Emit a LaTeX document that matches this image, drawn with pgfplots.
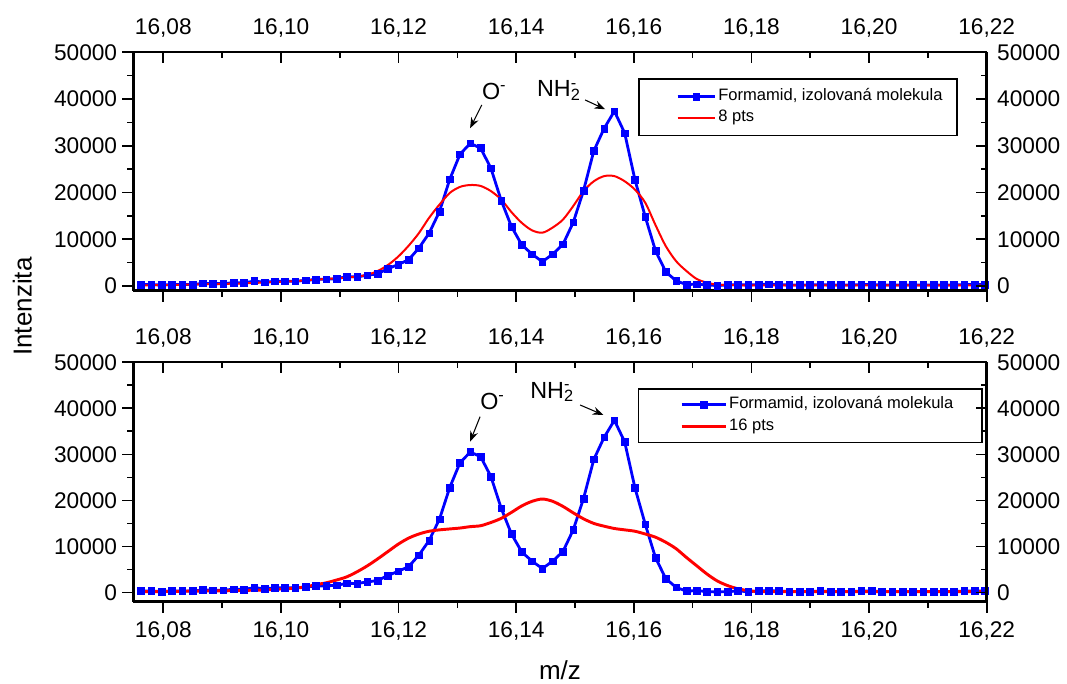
\documentclass[border=0pt]{standalone}
\usepackage{fontspec}
\setmainfont{Liberation Sans}
\usepackage{pgfplots}
\pgfplotsset{compat=1.18}
\usepackage{pgfplotstable}
\usetikzlibrary{arrows.meta}

\newcommand\ticksize{\fontsize{17pt}{20pt}\selectfont}
\newcommand\legsize{\fontsize{12.4pt}{14pt}\selectfont}
\newcommand\annsize{\fontsize{17.5pt}{20pt}\selectfont}
\newcommand\labsize{\fontsize{19.5pt}{23pt}\selectfont}

\pgfplotstableread{
x y
16.07620 300
16.07795 300
16.07970 200
16.08145 300
16.08320 300
16.08495 300
16.08670 550
16.08845 500
16.09020 500
16.09195 700
16.09370 650
16.09545 1050
16.09720 800
16.09895 1000
16.10070 1000
16.10245 1000
16.10420 1200
16.10595 1400
16.10770 1450
16.10945 1550
16.11120 2000
16.11295 1950
16.11470 2300
16.11645 2600
16.11820 3700
16.11995 4600
16.12170 5600
16.12345 8100
16.12520 11300
16.12695 15900
16.12870 22800
16.13045 28200
16.13220 30500
16.13395 29500
16.13570 25200
16.13745 18300
16.13920 12700
16.14095 8800
16.14270 6800
16.14445 5200
16.14620 6800
16.14795 8900
16.14970 13600
16.15145 20400
16.15320 28900
16.15495 33700
16.15670 37400
16.15845 32700
16.16020 22700
16.16195 14800
16.16370 7500
16.16545 3000
16.16720 1100
16.16895 300
16.17070 400
16.17245 200
16.17420 100
16.17595 200
16.17770 300
16.17945 200
16.18120 300
16.18295 400
16.18470 300
16.18645 200
16.18820 200
16.18995 200
16.19170 300
16.19345 200
16.19520 200
16.19695 200
16.19870 300
16.20045 300
16.20220 200
16.20395 200
16.20570 200
16.20745 200
16.20920 200
16.21095 200
16.21270 200
16.21445 200
16.21620 300
16.21795 300
16.21970 300
}\bluedata

\pgfplotstableread{
x y
16.07620 150
16.07795 150
16.07970 200
16.08145 200
16.08320 250
16.08495 300
16.08670 350
16.08845 400
16.09020 450
16.09195 500
16.09370 550
16.09545 650
16.09720 750
16.09895 850
16.10070 950
16.10245 1050
16.10420 1200
16.10595 1350
16.10770 1500
16.10945 1650
16.11120 1800
16.11295 2000
16.11470 2400
16.11645 3200
16.11820 4500
16.11995 6300
16.12170 8600
16.12345 11300
16.12520 14600
16.12695 17400
16.12870 19900
16.13045 21200
16.13220 21600
16.13395 21400
16.13570 20300
16.13745 18500
16.13920 15800
16.14095 13500
16.14270 11900
16.14445 11400
16.14620 12500
16.14795 14200
16.14970 17100
16.15145 20300
16.15320 22400
16.15495 23500
16.15670 23500
16.15845 22400
16.16020 20600
16.16195 17800
16.16370 13000
16.16545 8500
16.16720 5300
16.16895 3200
16.17070 1500
16.17245 700
16.17420 300
16.17595 200
16.17770 150
16.17945 150
16.18120 150
16.18470 150
16.18820 150
16.19170 150
16.19520 150
16.19870 150
16.20220 150
16.20570 150
16.20920 150
16.21270 150
16.21620 150
16.21970 150
}\redeight

\pgfplotstableread{
x y
16.07620 200
16.07795 200
16.07970 200
16.08145 250
16.08320 250
16.08495 300
16.08670 300
16.08845 350
16.09020 350
16.09195 400
16.09370 450
16.09545 500
16.09720 550
16.09895 700
16.10070 800
16.10245 950
16.10420 1200
16.10595 1700
16.10770 2100
16.10945 2700
16.11120 3400
16.11295 4500
16.11470 5800
16.11645 7300
16.11820 8900
16.11995 10500
16.12170 11800
16.12345 12700
16.12520 13300
16.12695 13600
16.12870 13800
16.13045 14000
16.13220 14300
16.13395 14500
16.13570 15200
16.13745 16100
16.13920 17400
16.14095 18800
16.14270 19800
16.14445 20300
16.14620 19800
16.14795 18700
16.14970 17300
16.15145 16000
16.15320 15000
16.15495 14400
16.15670 13900
16.15845 13600
16.16020 13300
16.16195 12700
16.16370 12000
16.16545 10900
16.16720 9500
16.16895 7600
16.17070 5800
16.17245 4000
16.17420 2500
16.17595 1500
16.17770 800
16.17945 400
16.18120 200
16.18470 200
16.18820 200
16.19170 200
16.19520 200
16.19870 200
16.20220 200
16.20570 200
16.20920 200
16.21270 200
16.21620 200
16.21970 200
}\redsixteen

\pgfplotsset{
  base/.style={
    scale only axis, width=640pt,
    xmin=16.0749, xmax=16.22, ymax=50000,
    xtick={16.08,16.10,16.12,16.14,16.16,16.18,16.20,16.22},
    minor x tick num=1,
    ytick={0,10000,20000,30000,40000,50000},
    minor y tick num=1,
    scaled x ticks=false, scaled y ticks=false,
    major tick length=8.25pt, minor tick length=4.5pt,
    tick style={black, line width=1.3pt},
    axis line style={black, line width=1.8pt},
    tick label style={font=\ticksize, inner sep=0pt},
    /pgf/number format/assume math mode=true,
    xticklabel style={/pgf/number format/.cd, fixed, fixed zerofill, precision=2, use comma},
    yticklabel style={/pgf/number format/.cd, fixed, precision=0, 1000 sep={}},
  },
  lowleft/.style={base, axis x line*=bottom, axis y line*=left, tick align=outside, yticklabel shift=3.75pt},
  upright/.style={base, axis x line*=top, axis y line*=right, tick align=inside, xticklabel shift=10.7pt, yticklabel shift=7.7pt},
  blueplot/.style={color=blue, line width=2.1pt, mark=square*, mark size=2.5pt, mark options={solid, line width=0.4pt}},
}

\begin{document}
\begin{tikzpicture}
\useasboundingbox (0,0) rectangle (800.25pt,513pt);

% ---------- top panel ----------
\begin{axis}[lowleft, at={(100pt,295pt)}, anchor=south west, height=178.8pt, ymin=-1000,
  xticklabels={},
  legend cell align=left,
  legend style={at={(0.5917,0.891)}, anchor=north west, draw=black, line width=1.1pt, fill=white,
    inner xsep=0pt, inner ysep=6.5pt, row sep=2.2pt, font=\legsize,
    nodes={inner sep=1.5pt, text height=0.8em, text depth=0.25em}},
  legend image code/.code={\path[draw=none,fill=none] (-29pt,0pt) -- (0pt,0pt); \draw[mark repeat=2,mark phase=2,#1] plot coordinates {(0pt,0pt) (14pt,0pt) (28pt,0pt)};},
]
\addplot[blueplot] table {\bluedata};
\addlegendentry{Formamid, izolovaná molekula\hspace*{9.3pt}}
\addplot[color=red, line width=1.5pt, smooth, no marks] table {\redeight};
\addlegendentry{8 pts}
\node[anchor=base west, font=\annsize, inner sep=0pt] at (axis cs:16.13415,39946) {O\textsuperscript{-}};
\draw[-{Stealth[length=8pt,width=6pt]}, line width=0.8pt] (axis cs:16.13415,38726) -- (axis cs:16.13216,33742);
\node[anchor=base west, font=\annsize, inner sep=0pt] at (axis cs:16.14351,40502) {NH\rlap{\textsuperscript{-}}\textsubscript{2}};
\draw[-{Stealth[length=8pt,width=6pt]}, line width=0.8pt] (axis cs:16.15172,39795) -- (axis cs:16.15512,37806);
\end{axis}
\begin{axis}[upright, at={(100pt,295pt)}, anchor=south west, height=178.8pt, ymin=-1000]
\end{axis}

% ---------- bottom panel ----------
\begin{axis}[lowleft, at={(100pt,61.73pt)}, anchor=south west, height=179.55pt, ymin=-2000,
  xticklabel shift=6.75pt,
  legend cell align=left,
  legend style={at={(0.591,0.8914)}, anchor=north west, draw=black, line width=1.1pt, fill=white,
    inner xsep=0pt, inner ysep=5pt, row sep=3.2pt, font=\legsize,
    nodes={inner sep=1.5pt, text height=0.8em, text depth=0.25em}},
  legend image code/.code={\path[draw=none,fill=none] (-32.5pt,0pt) -- (0pt,0pt); \draw[mark repeat=2,mark phase=2,#1] plot coordinates {(0pt,0pt) (16.5pt,0pt) (33pt,0pt)};},
]
\addplot[blueplot] table {\bluedata};
\addlegendentry{Formamid, izolovaná molekula\hspace*{20pt}}
\addplot[color=red, line width=2.2pt, smooth, no marks] table {\redsixteen};
\addlegendentry{16 pts}
\node[anchor=base west, font=\annsize, inner sep=0pt] at (axis cs:16.13386,39791) {O\textsuperscript{-}};
\draw[-{Stealth[length=8pt,width=6pt]}, line width=0.8pt] (axis cs:16.13386,38184) -- (axis cs:16.13216,32754);
\node[anchor=base west, font=\annsize, inner sep=0pt] at (axis cs:16.14237,42181) {NH\rlap{\textsuperscript{-}}\textsubscript{2}};
\draw[-{Stealth[length=8pt,width=6pt]}, line width=0.8pt] (axis cs:16.15087,40725) -- (axis cs:16.15483,38553);
\end{axis}
\begin{axis}[upright, at={(100pt,61.73pt)}, anchor=south west, height=179.55pt, ymin=-2000]
\end{axis}

% ---------- axis titles ----------
\node[rotate=90, anchor=base, font=\labsize, inner sep=0pt] at (23.8pt,283pt) {Intenzita};
\node[anchor=base, font=\labsize, inner sep=0pt] at (420pt,3.6pt) {m/z};
\end{tikzpicture}
\end{document}
